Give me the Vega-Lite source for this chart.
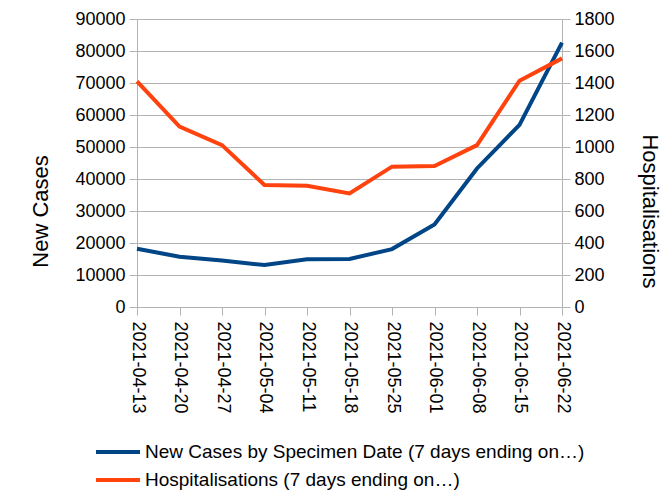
{
  "$schema": "https://vega.github.io/schema/vega-lite/v6.json",
  "width": 425,
  "height": 288,
  "autosize": {"type": "none"},
  "padding": {"left": 137, "top": 19, "right": 103, "bottom": 190},
  "background": "white",
  "config": {
    "font": "Liberation Sans",
    "view": {"stroke": null},
    "axis": {
      "labelFont": "Liberation Sans",
      "labelFontSize": 18,
      "labelColor": "black",
      "titleFont": "Liberation Sans",
      "titleFontSize": 22,
      "titleFontWeight": "normal",
      "titleColor": "black",
      "domainColor": "#b3b3b3",
      "tickColor": "#b3b3b3",
      "gridColor": "#b3b3b3",
      "tickSize": 8,
      "labelPadding": 4
    },
    "legend": {
      "labelFont": "Liberation Sans",
      "labelFontSize": 19,
      "labelColor": "black"
    }
  },
  "data": {
    "values": [
      {"date": "2021-04-13", "series": "New Cases by Specimen Date (7 days ending on…)", "value": 18200},
      {"date": "2021-04-20", "series": "New Cases by Specimen Date (7 days ending on…)", "value": 15700},
      {"date": "2021-04-27", "series": "New Cases by Specimen Date (7 days ending on…)", "value": 14500},
      {"date": "2021-05-04", "series": "New Cases by Specimen Date (7 days ending on…)", "value": 13100},
      {"date": "2021-05-11", "series": "New Cases by Specimen Date (7 days ending on…)", "value": 14900},
      {"date": "2021-05-18", "series": "New Cases by Specimen Date (7 days ending on…)", "value": 15000},
      {"date": "2021-05-25", "series": "New Cases by Specimen Date (7 days ending on…)", "value": 18100},
      {"date": "2021-06-01", "series": "New Cases by Specimen Date (7 days ending on…)", "value": 25800},
      {"date": "2021-06-08", "series": "New Cases by Specimen Date (7 days ending on…)", "value": 43300},
      {"date": "2021-06-15", "series": "New Cases by Specimen Date (7 days ending on…)", "value": 56900},
      {"date": "2021-06-22", "series": "New Cases by Specimen Date (7 days ending on…)", "value": 82600},
      {"date": "2021-04-13", "series": "Hospitalisations (7 days ending on…)", "value": 1410},
      {"date": "2021-04-20", "series": "Hospitalisations (7 days ending on…)", "value": 1127},
      {"date": "2021-04-27", "series": "Hospitalisations (7 days ending on…)", "value": 1012},
      {"date": "2021-05-04", "series": "Hospitalisations (7 days ending on…)", "value": 762},
      {"date": "2021-05-11", "series": "Hospitalisations (7 days ending on…)", "value": 758},
      {"date": "2021-05-18", "series": "Hospitalisations (7 days ending on…)", "value": 710},
      {"date": "2021-05-25", "series": "Hospitalisations (7 days ending on…)", "value": 877},
      {"date": "2021-06-01", "series": "Hospitalisations (7 days ending on…)", "value": 881},
      {"date": "2021-06-08", "series": "Hospitalisations (7 days ending on…)", "value": 1012},
      {"date": "2021-06-15", "series": "Hospitalisations (7 days ending on…)", "value": 1414},
      {"date": "2021-06-22", "series": "Hospitalisations (7 days ending on…)", "value": 1554}
    ]
  },
  "encoding": {
    "x": {
      "field": "date",
      "type": "ordinal",
      "scale": {"type": "point", "padding": 0},
      "axis": {"title": null, "labelAngle": 90, "labelPadding": 6, "grid": false}
    },
    "color": {
      "field": "series",
      "type": "nominal",
      "scale": {
        "domain": ["New Cases by Specimen Date (7 days ending on…)", "Hospitalisations (7 days ending on…)"],
        "range": ["#004586", "#ff420e"]
      },
      "legend": {
        "title": null,
        "orient": "none",
        "legendX": -43,
        "legendY": 421,
        "direction": "vertical",
        "symbolType": "stroke",
        "symbolStrokeWidth": 4,
        "symbolSize": 1936,
        "labelOffset": 3,
        "labelLimit": 0,
        "clipHeight": 24,
        "rowPadding": 4
      }
    }
  },
  "layer": [
    {
      "transform": [{"filter": "datum.series == 'New Cases by Specimen Date (7 days ending on…)'"}],
      "mark": {"type": "line", "strokeWidth": 4},
      "encoding": {
        "y": {
          "field": "value",
          "type": "quantitative",
          "scale": {"domain": [0, 90000], "nice": false},
          "axis": {"title": "New Cases", "values": [0,10000,20000,30000,40000,50000,60000,70000,80000,90000], "format": "d", "titlePadding": 22, "titleY": 192, "grid": true}
        }
      }
    },
    {
      "transform": [{"filter": "datum.series == 'Hospitalisations (7 days ending on…)'"}],
      "mark": {"type": "line", "strokeWidth": 4},
      "encoding": {
        "y": {
          "field": "value",
          "type": "quantitative",
          "scale": {"domain": [0, 1800], "nice": false},
          "axis": {"title": "Hospitalisations", "orient": "right", "values": [0,200,400,600,800,1000,1200,1400,1600,1800], "format": "d", "titlePadding": 23, "titleY": 192, "grid": false}
        }
      }
    }
  ],
  "resolve": {"scale": {"y": "independent"}}
}
